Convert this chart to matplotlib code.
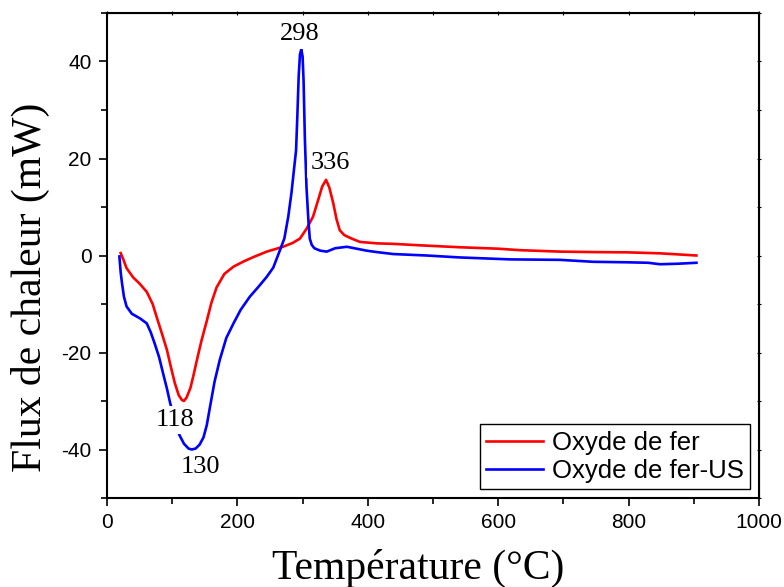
import matplotlib
matplotlib.use("Agg")
import matplotlib.pyplot as plt
from matplotlib.ticker import MultipleLocator

plt.rcParams['axes.unicode_minus'] = False

# DSC curves: temperature (°C) vs heat flow (mW)
temp_fer = [21, 25, 30, 40, 50, 61, 70, 76, 84, 92, 98, 104, 110, 115, 118,
            122, 128, 133, 138, 145, 153, 160, 168, 180, 194, 210, 225, 245,
            270, 285, 296, 306, 316, 324, 330, 336, 341, 347, 352, 357, 364,
            375, 388, 414, 439, 480, 541, 600, 633, 695, 750, 797, 848, 904]
flux_fer = [0.5, -0.8, -2.6, -4.5, -5.8, -7.5, -10, -12.6, -16, -19.5, -23,
            -26.3, -28.8, -29.8, -30.0, -29.3, -27.3, -24.5, -21.5, -17.5,
            -13.5, -9.8, -6.6, -3.8, -2.3, -1.2, -0.3, 0.8, 1.8, 2.6, 3.5, 5.5,
            8, 11.5, 14.2, 15.6, 14, 10.8, 7.5, 5.2, 4.2, 3.5, 2.8, 2.5, 2.4,
            2.1, 1.7, 1.4, 1.1, 0.8, 0.7, 0.65, 0.45, 0.0]

temp_us = [19, 21, 23, 26, 30, 38, 51, 61, 67, 73, 80, 86, 92, 97, 104, 111,
           118, 125, 130, 136, 142, 148, 153, 158, 165, 173, 183, 194, 205,
           219, 232, 245, 255, 265, 272, 278, 283, 287, 290, 292, 294, 296,
           298, 300, 301.5, 303.5, 306, 309, 311, 314, 318, 327, 337, 350,
           368, 383, 398, 414, 439, 490, 541, 618, 695, 746, 797, 830, 848,
           875, 904]
flux_us = [-0.2, -3.5, -5.7, -8.5, -10.5, -12, -13, -14, -15.8, -18.1, -21,
           -24.3, -27.5, -30.5, -34, -37, -38.8, -39.8, -40.0, -39.8, -39,
           -37.5, -35, -31.2, -26, -21.5, -17, -14, -11.2, -8.5, -6.5, -4.4,
           -2.5, 1.0, 3.5, 8, 13, 18, 21.7, 29, 37, 41.5, 42.5, 41, 36, 24,
           14, 7, 3.5, 2.2, 1.5, 1.0, 0.8, 1.5, 1.8, 1.4, 1.0, 0.7, 0.3, 0.0,
           -0.4, -0.8, -0.9, -1.3, -1.4, -1.5, -1.8, -1.7, -1.5]

# peak annotations: (text, x, y)
peak_labels = [("118", 104, -33.9), ("130", 143, -43.6),
               ("298", 295.5, 45.6), ("336", 342, 19)]

fig = plt.figure(figsize=(7.84, 5.87), dpi=100)
ax = fig.add_axes([107 / 784, 89 / 587, 652 / 784, 485 / 587])

ax.plot(temp_fer, flux_fer, color='#ff0000', lw=1.9, label='Oxyde de fer', zorder=2)
ax.plot(temp_us, flux_us, color='#0000ff', lw=1.9, label='Oxyde de fer-US', zorder=2)

for txt, x, y in peak_labels:
    ax.text(x, y, txt, ha='center', va='center', fontsize=19,
            family='Liberation Serif', zorder=5,
            bbox=dict(boxstyle='square,pad=0.12', fc='white', ec='none'))

ax.set_xlim(0, 1000)
ax.set_ylim(-50, 50)
ax.xaxis.set_major_locator(MultipleLocator(200))
ax.xaxis.set_minor_locator(MultipleLocator(100))
ax.yaxis.set_major_locator(MultipleLocator(20))
ax.yaxis.set_minor_locator(MultipleLocator(10))
ax.tick_params(which='major', direction='out', length=6, width=1.2,
               labelsize=15, pad=5)
ax.tick_params(which='minor', direction='out', length=4, width=1.2)
for lab in ax.get_xticklabels() + ax.get_yticklabels():
    lab.set_family('Liberation Sans')

for sp in ax.spines.values():
    sp.set_linewidth(1.5)

# small ticks on the top and right frame
top = ax.secondary_xaxis('top')
top.set_xticks(range(0, 1001, 100))
top.tick_params(direction='inout', length=3, width=0.8, labeltop=False)
right = ax.secondary_yaxis('right')
right.set_yticks(range(-50, 51, 10))
right.tick_params(direction='inout', length=3, width=0.8, labelright=False)

ax.set_xlabel('Température (°C)', family='Liberation Serif', fontsize=30,
              va='center')
ax.xaxis.set_label_coords(0.477, -0.145)
ax.set_ylabel('Flux de chaleur (mW)', family='Liberation Serif', fontsize=30,
              va='center')
ax.yaxis.set_label_coords(-0.118, 0.435)

leg = ax.legend(loc='lower right', frameon=True, fancybox=False,
                edgecolor='black', framealpha=1, handlelength=2.2,
                handletextpad=0.35, borderpad=0.25, labelspacing=0.15,
                borderaxespad=0.35, prop={'family': 'Liberation Sans', 'size': 18.5})
leg.get_frame().set_linewidth(1.0)

fig.savefig('out.png', dpi=100)
